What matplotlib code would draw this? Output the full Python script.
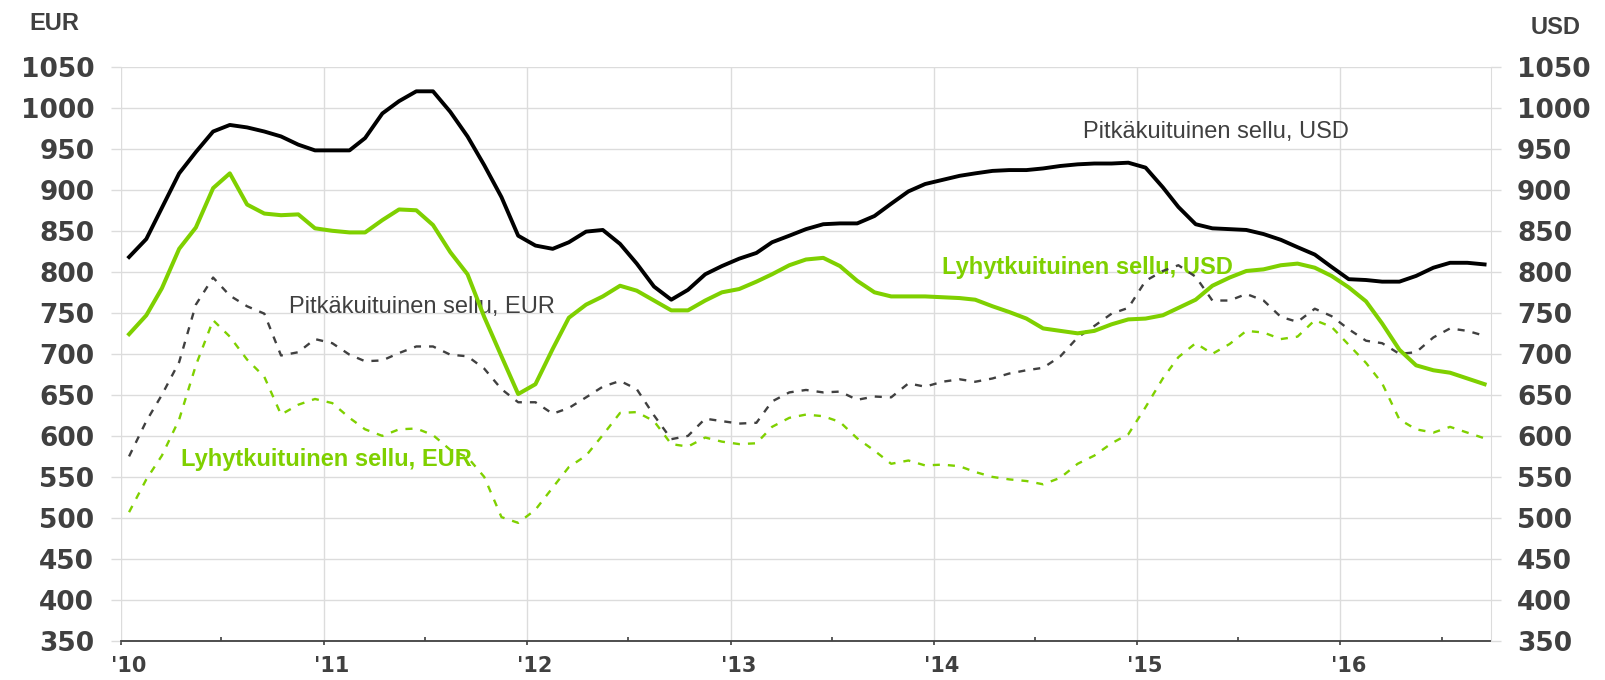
import numpy as np
import pandas as pd
import matplotlib
matplotlib.use("Agg")
import matplotlib.pyplot as plt
from matplotlib.transforms import ScaledTranslation

# monthly prices, Jan 2010 - Sep 2016
months = pd.date_range("2010-01-01", "2016-09-01", freq="MS") + pd.Timedelta(days=15)

pitka_usd = [
    818, 840, 878, 920, 946, 971, 979, 976, 971, 965, 955, 948,
    948, 948, 963, 993, 1008, 1020, 1020, 995, 965, 930, 891, 844,
    832, 828, 836, 849, 851, 834, 810, 782, 766, 778, 797, 807,
    816, 823, 836, 844, 852, 858, 859, 859, 868, 883, 898, 907,
    912, 917, 920, 923, 924, 924, 926, 929, 931, 932, 932, 933,
    927, 903, 879, 858, 853, 852, 851, 846, 839, 830, 821, 806,
    791, 790, 788, 788, 795, 805, 811, 811, 809,
]
lyhyt_usd = [
    724, 747, 780, 828, 854, 902, 920, 882, 871, 869, 870, 853,
    850, 848, 848, 863, 876, 875, 857, 824, 797, 745, 697, 651,
    663, 706, 744, 760, 770, 783, 777, 765, 753, 753, 765, 775,
    779, 788, 797, 808, 815, 817, 807, 789, 775, 770, 770, 770,
    769, 768, 766, 758, 751, 743, 731, 728, 725, 728, 736, 742,
    743, 747, 756, 766, 783, 793, 801, 803, 808, 810, 805, 795,
    781, 764, 737, 705, 686, 680, 677, 670, 663,
]
pitka_eur = [
    575, 618, 650, 690, 760, 793, 771, 758, 749, 698, 702, 718,
    713, 699, 691, 692, 701, 709, 709, 699, 697, 682, 657, 641,
    641, 627, 634, 647, 660, 667, 657, 625, 596, 600, 621, 618,
    615, 616, 642, 653, 656, 653, 654, 644, 648, 647, 664, 660,
    666, 669, 666, 670, 676, 680, 683, 697, 720, 734, 749, 756,
    789, 801, 808, 794, 765, 765, 773, 765, 745, 739, 755, 746,
    730, 716, 713, 700, 702, 720, 731, 728, 722,
]
lyhyt_eur = [
    507, 547, 576, 620, 686, 741, 721, 693, 672, 626, 638, 645,
    640, 622, 608, 600, 608, 609, 601, 583, 574, 550, 501, 494,
    510, 537, 562, 576, 601, 628, 629, 618, 590, 587, 598, 593,
    590, 591, 611, 622, 626, 624, 617, 597, 582, 566, 570, 564,
    565, 563, 556, 550, 547, 545, 541, 549, 566, 576, 591, 602,
    635, 670, 696, 713, 700, 712, 728, 726, 718, 721, 741, 733,
    711, 689, 664, 620, 608, 604, 611, 604, 597,
]

year_labels = ["'10", "'11", "'12", "'13", "'14", "'15", "'16"]
year_ticks = pd.date_range("2010-01-01", "2016-01-01", freq="YS")
half_ticks = pd.date_range("2010-07-01", "2016-07-01", freq="12MS")

green = "#7FD000"
grid_c = "#DCDCDC"
txt_c = "#404040"
num_font = ["DejaVu Sans"]
txt_font = ["Liberation Sans", "DejaVu Sans"]

fig = plt.figure(figsize=(16.06, 6.8), dpi=100)
ax = fig.add_axes([0.07516, 0.05735, 0.85305, 0.84456])
ax2 = ax.twinx()

for a in (ax, ax2):
    a.set_ylim(350, 1050)
    a.set_yticks(range(350, 1051, 50))
    a.set_xlim(pd.Timestamp("2010-01-01"), pd.Timestamp("2016-09-27"))
    for s in a.spines.values():
        s.set_visible(False)

ax.grid(axis="y", color=grid_c, lw=1.0, zorder=0)
ax.set_axisbelow(True)
ax.vlines(year_ticks, 350, 1050, color=grid_c, lw=1.0, zorder=0)
ax2.spines["right"].set_visible(True)
ax2.spines["right"].set_color(grid_c)
ax.spines["bottom"].set_visible(True)
ax.spines["bottom"].set_color(txt_c)
ax.spines["bottom"].set_linewidth(1.3)

for a in (ax, ax2):
    a.tick_params(axis="y", direction="out", length=7.5, color=grid_c, width=1.0,
                  pad=11.5, labelsize=19, labelcolor=txt_c)
    for lab in a.get_yticklabels():
        lab.set_fontweight("bold")
        lab.set_family(num_font)

ax.set_xticks(year_ticks)
ax.set_xticklabels(year_labels)
ax.set_xticks(half_ticks, minor=True)
ax.tick_params(axis="x", which="major", direction="out", length=3.2, width=1.2,
               color=txt_c, pad=7.8, labelsize=15, labelcolor=txt_c)
ax.tick_params(axis="x", which="minor", direction="in", length=3.2, width=1.2,
               color=txt_c)
shift = ScaledTranslation(0.08, 0, fig.dpi_scale_trans)
for lab in ax.get_xticklabels():
    lab.set_fontweight("bold")
    lab.set_family(num_font)
    lab.set_transform(lab.get_transform() + shift)

# EUR on left axis, USD on right axis (same scale)
ax.plot(months, pitka_eur, color="#404040", lw=1.7, ls=(0, (3.0, 3.4)), zorder=3)
ax.plot(months, lyhyt_eur, color=green, lw=1.7, ls=(0, (3.0, 3.4)), zorder=3)
ax2.plot(months, pitka_usd, color="black", lw=2.8, solid_joinstyle="round", zorder=3)
ax2.plot(months, lyhyt_usd, color=green, lw=2.9, solid_joinstyle="round", zorder=3)

ax.text(pd.Timestamp("2010-10-30"), 757, "Pitkäkuituinen sellu, EUR", fontsize=17,
        family=txt_font, color=txt_c, va="center", zorder=1)
ax.text(pd.Timestamp("2014-09-26"), 970, "Pitkäkuituinen sellu, USD", fontsize=17,
        family=txt_font, color=txt_c, va="center", zorder=1)
ax.text(pd.Timestamp("2014-01-16"), 805, "Lyhytkuituinen sellu, USD", fontsize=17,
        family=txt_font, color=green, fontweight="bold", va="center", zorder=1)
ax.text(pd.Timestamp("2010-04-20"), 571, "Lyhytkuituinen sellu, EUR", fontsize=17,
        family=txt_font, color=green, fontweight="bold", va="center", zorder=1)

fig.text(54.5 / 1606, 1 - 23.5 / 680, "EUR", fontsize=17, fontweight="bold",
         family=txt_font, color=txt_c, ha="center", va="center")
fig.text(1556 / 1606, 1 - 27 / 680, "USD", fontsize=17, fontweight="bold",
         family=txt_font, color=txt_c, ha="center", va="center")

fig.savefig("out.png", dpi=100)
